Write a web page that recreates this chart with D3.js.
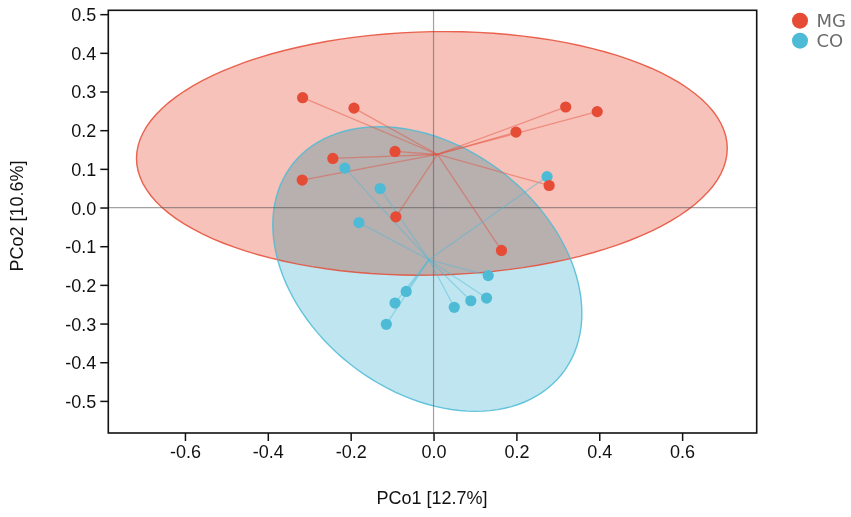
<!DOCTYPE html>
<html>
<head>
<meta charset="utf-8">
<script src="https://cdn.jsdelivr.net/npm/d3@7"></script>
<style>
  body { margin: 0; background: #fff; }
  text { font-family: "Liberation Sans", Arial, sans-serif; }
</style>
</head>
<body>
<div id="wrapper"></div>
<script>
// groups and colours
const groups = ["MG", "CO"];
const groupColors = ["#E64B35", "#4DBBD5"];

// sample coordinates
const mgX = [-0.316, -0.192, -0.093, -0.243, -0.317, -0.091, 0.319, 0.395, 0.199, 0.279, 0.164];
const mgY = [0.284, 0.257, 0.145, 0.127, 0.071, -0.024, 0.260, 0.248, 0.195, 0.057, -0.111];
const coX = [-0.214, -0.129, -0.180, 0.274, 0.132, -0.066, -0.093, -0.114, 0.050, 0.090, 0.128];
const coY = [0.102, 0.049, -0.039, 0.080, -0.176, -0.217, -0.247, -0.302, -0.258, -0.241, -0.234];

// confidence ellipses (centre, spread, correlation) per group, MG then CO
const ellCx = [-0.004, -0.015];
const ellCy = [0.140, -0.159];
const ellSx = [0.713, 0.373];
const ellSy = [0.315, 0.368];
const ellRho = [0.041, -0.311];

const xTicks = [-0.6, -0.4, -0.2, 0.0, 0.2, 0.4, 0.6];
const yTicks = [-0.5, -0.4, -0.3, -0.2, -0.1, 0.0, 0.1, 0.2, 0.3, 0.4, 0.5];
const xTitle = "PCo1 [12.7%]";
const yTitle = "PCo2 [10.6%]";

const width = 851, height = 517;
const plot = { left: 108.3, right: 756.7, top: 10.3, bottom: 433 };

const svg = d3.select("#wrapper").append("svg")
    .attr("width", width)
    .attr("height", height);

const xScale = d3.scaleLinear()
    .domain([-0.785, 0.78])
    .range([plot.left, plot.right]);

const yScale = d3.scaleLinear()
    .domain([-0.583, 0.510])
    .range([plot.bottom, plot.top]);

const series = [
    { name: groups[0], color: groupColors[0], pts: mgX.map((x, i) => [x, mgY[i]]) },
    { name: groups[1], color: groupColors[1], pts: coX.map((x, i) => [x, coY[i]]) }
];

svg.append("clipPath").attr("id", "plotclip")
    .append("rect")
    .attr("x", plot.left).attr("y", plot.top)
    .attr("width", plot.right - plot.left)
    .attr("height", plot.bottom - plot.top);

const inner = svg.append("g").attr("clip-path", "url(#plotclip)");

// ellipse outline in data space
function ellipsePoints(g) {
    const out = [];
    const k = Math.sqrt(1 - ellRho[g] * ellRho[g]);
    for (let i = 0; i <= 120; i++) {
        const t = i / 120 * 2 * Math.PI;
        const dx = ellSx[g] * Math.cos(t);
        const dy = ellSy[g] * (ellRho[g] * Math.cos(t) + k * Math.sin(t));
        out.push([ellCx[g] + dx, ellCy[g] + dy]);
    }
    return out;
}

const line = d3.line()
    .x(d => xScale(d[0]))
    .y(d => yScale(d[1]));

const fills = inner.append("g").style("isolation", "isolate");
series.forEach((s, g) => {
    fills.append("path")
        .attr("d", line(ellipsePoints(g)) + "Z")
        .attr("fill", s.color)
        .attr("fill-opacity", g === 0 ? 0.34 : 0.36)
        .style("mix-blend-mode", "multiply");
});
series.forEach((s, g) => {
    inner.append("path")
        .attr("d", line(ellipsePoints(g)) + "Z")
        .attr("fill", "none")
        .attr("stroke", s.color)
        .attr("stroke-opacity", 0.85)
        .attr("stroke-width", 1.4);
});

// zero lines
inner.append("line")
    .attr("x1", xScale(0)).attr("x2", xScale(0))
    .attr("y1", plot.top).attr("y2", plot.bottom)
    .attr("stroke", "#555").attr("stroke-opacity", 0.55).attr("stroke-width", 1.2);
inner.append("line")
    .attr("x1", plot.left).attr("x2", plot.right)
    .attr("y1", yScale(0)).attr("y2", yScale(0))
    .attr("stroke", "#555").attr("stroke-opacity", 0.55).attr("stroke-width", 1.2);

// spider lines from group centroid
series.forEach(s => {
    const cx = d3.mean(s.pts, d => d[0]);
    const cy = d3.mean(s.pts, d => d[1]);
    inner.append("g").selectAll("line")
        .data(s.pts)
        .join("line")
        .attr("x1", xScale(cx)).attr("y1", yScale(cy))
        .attr("x2", d => xScale(d[0])).attr("y2", d => yScale(d[1]))
        .attr("stroke", s.color)
        .attr("stroke-opacity", 0.45)
        .attr("stroke-width", 1.3);
});

// points (CO first so MG sits on top)
[series[1], series[0]].forEach(s => {
    inner.append("g").selectAll("circle")
        .data(s.pts)
        .join("circle")
        .attr("cx", d => xScale(d[0]))
        .attr("cy", d => yScale(d[1]))
        .attr("r", 5.6)
        .attr("fill", s.color);
});

// axes
const fmt = d => d.toFixed(1);

const xAxis = svg.append("g")
    .attr("transform", `translate(0, ${plot.bottom})`)
    .call(d3.axisBottom(xScale).tickValues(xTicks).tickFormat(fmt).tickSize(8).tickSizeOuter(0).tickPadding(4));

const yAxis = svg.append("g")
    .attr("transform", `translate(${plot.left}, 0)`)
    .call(d3.axisLeft(yScale).tickValues(yTicks).tickFormat(fmt).tickSize(8).tickSizeOuter(0).tickPadding(4));

[xAxis, yAxis].forEach(a => {
    a.select(".domain").remove();
    a.selectAll(".tick line").attr("stroke", "#111").attr("stroke-width", 1.5);
    a.selectAll(".tick text")
        .attr("fill", "#111")
        .style("font-size", "18px")
        .style("font-family", "'Liberation Sans', Arial, sans-serif");
});
yAxis.selectAll(".tick text").attr("dy", "0.36em");

svg.append("rect")
    .attr("x", plot.left).attr("y", plot.top)
    .attr("width", plot.right - plot.left)
    .attr("height", plot.bottom - plot.top)
    .attr("fill", "none")
    .attr("stroke", "#111")
    .attr("stroke-width", 1.6);

// axis titles
svg.append("text")
    .attr("x", 432).attr("y", 504)
    .attr("text-anchor", "middle")
    .style("font-size", "18px")
    .attr("fill", "#111")
    .text(xTitle);

svg.append("text")
    .attr("transform", "translate(23, 216) rotate(-90)")
    .attr("text-anchor", "middle")
    .style("font-size", "18px")
    .attr("fill", "#111")
    .text(yTitle);

// legend
const legend = svg.append("g");
groups.forEach((name, i) => {
    legend.append("circle")
        .attr("cx", 800).attr("cy", 20.7 + i * 20)
        .attr("r", 8)
        .attr("fill", groupColors[i]);
    legend.append("text")
        .attr("x", 816.5).attr("y", 20.7 + i * 20)
        .attr("dy", "0.36em")
        .style("font-family", "'DejaVu Sans', sans-serif")
        .style("font-size", "18px")
        .attr("fill", "#6b6b6b")
        .text(name);
});
</script>
</body>
</html>
